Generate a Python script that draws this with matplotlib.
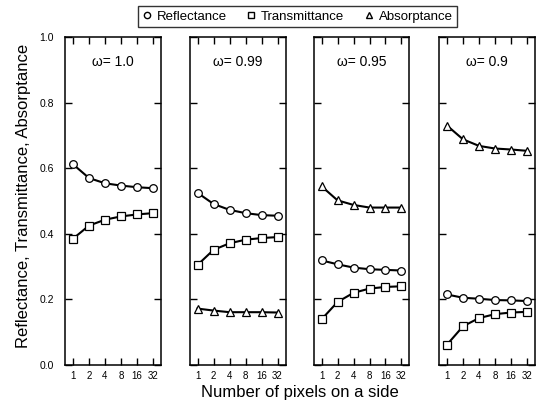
import numpy as np
import matplotlib.pyplot as plt
from matplotlib.lines import Line2D

plt.rcParams['font.family'] = ['Liberation Sans', 'DejaVu Sans']

# ===================
# Datos
# ===================

pixels = [1, 2, 4, 8, 16, 32]
omegas = ["1.0", "0.99", "0.95", "0.9"]

refl_10 = [0.612, 0.570, 0.554, 0.547, 0.542, 0.539]
trans_10 = [0.385, 0.425, 0.443, 0.453, 0.459, 0.463]

refl_099 = [0.525, 0.491, 0.473, 0.463, 0.457, 0.455]
trans_099 = [0.305, 0.351, 0.371, 0.382, 0.387, 0.390]
abs_099 = [0.172, 0.166, 0.161, 0.161, 0.161, 0.160]

refl_095 = [0.319, 0.307, 0.297, 0.292, 0.290, 0.288]
trans_095 = [0.139, 0.192, 0.220, 0.233, 0.238, 0.240]
abs_095 = [0.545, 0.502, 0.488, 0.480, 0.480, 0.480]

refl_09 = [0.215, 0.205, 0.202, 0.198, 0.197, 0.195]
trans_09 = [0.062, 0.118, 0.143, 0.155, 0.160, 0.162]
abs_09 = [0.730, 0.688, 0.668, 0.660, 0.657, 0.653]

panels = [
    (refl_10, trans_10, None),
    (refl_099, trans_099, abs_099),
    (refl_095, trans_095, abs_095),
    (refl_09, trans_09, abs_09),
]

# ===================
# Figura
# ===================

W, H = 536, 408
fig = plt.figure(figsize=(W / 100, H / 100), dpi=100)

lefts = [65, 189.5, 313.5, 439]
ax_w = 96
top, bottom = 37, 365

style = dict(color="black", lw=1.5, markerfacecolor="white",
             markeredgecolor="black", markersize=5.5, markeredgewidth=0.9)

for i, (ax_left, (r, t, a)) in enumerate(zip(lefts, panels)):
    ax = fig.add_axes([ax_left / W, (H - bottom) / H, ax_w / W, (bottom - top) / H])
    ax.plot(pixels, r, marker="o", **style)
    ax.plot(pixels, t, marker="s", **style)
    if a is not None:
        ax.plot(pixels, a, marker="^", **style)

    ax.set_xscale("log", base=2)
    ax.set_xlim(2 ** -0.5, 2 ** 5.5)
    ax.set_ylim(0, 1.0)
    ax.set_xticks(pixels)
    ax.set_xticklabels([str(p) for p in pixels])
    ax.minorticks_off()
    ax.set_yticks([0.0, 0.2, 0.4, 0.6, 0.8, 1.0])
    ax.tick_params(axis="both", direction="in", top=True, right=True,
                   length=5, width=1, labelsize=7.5)
    ax.tick_params(axis="x", pad=4, labelsize=7)
    if i == 0:
        ax.set_yticklabels(["0.0", "0.2", "0.4", "0.6", "0.8", "1.0"])
        ax.tick_params(axis="y", pad=8)
    else:
        ax.set_yticklabels([])
    for sp in ax.spines.values():
        sp.set_linewidth(1.1)
    ax.text(0.5, 0.925, "\u03c9= " + omegas[i], transform=ax.transAxes,
            ha="center", va="center", fontsize=10)

# Leyenda
handles = [
    Line2D([], [], ls="none", marker="o", markerfacecolor="white", markeredgecolor="black", markersize=4.5),
    Line2D([], [], ls="none", marker="s", markerfacecolor="white", markeredgecolor="black", markersize=4.5),
    Line2D([], [], ls="none", marker="^", markerfacecolor="white", markeredgecolor="black", markersize=4.5),
]
leg = fig.legend(handles, ["Reflectance", "Transmittance", "Absorptance"],
                 loc="center", bbox_to_anchor=(297.5 / W, 1 - 16.5 / H), ncol=3,
                 frameon=True, fancybox=False, edgecolor="black", fontsize=9.5,
                 handlelength=0.7, handletextpad=0.4, columnspacing=1.5,
                 borderpad=0.3)
leg.get_frame().set_linewidth(1.0)

fig.text(24 / W, 1 - 196 / H, "Reflectance, Transmittance, Absorptance",
         rotation=90, ha="center", va="center", fontsize=12)
fig.text(300 / W, 1 - 392 / H, "Number of pixels on a side",
         ha="center", va="center", fontsize=12)

fig.savefig("out.png", dpi=100)
